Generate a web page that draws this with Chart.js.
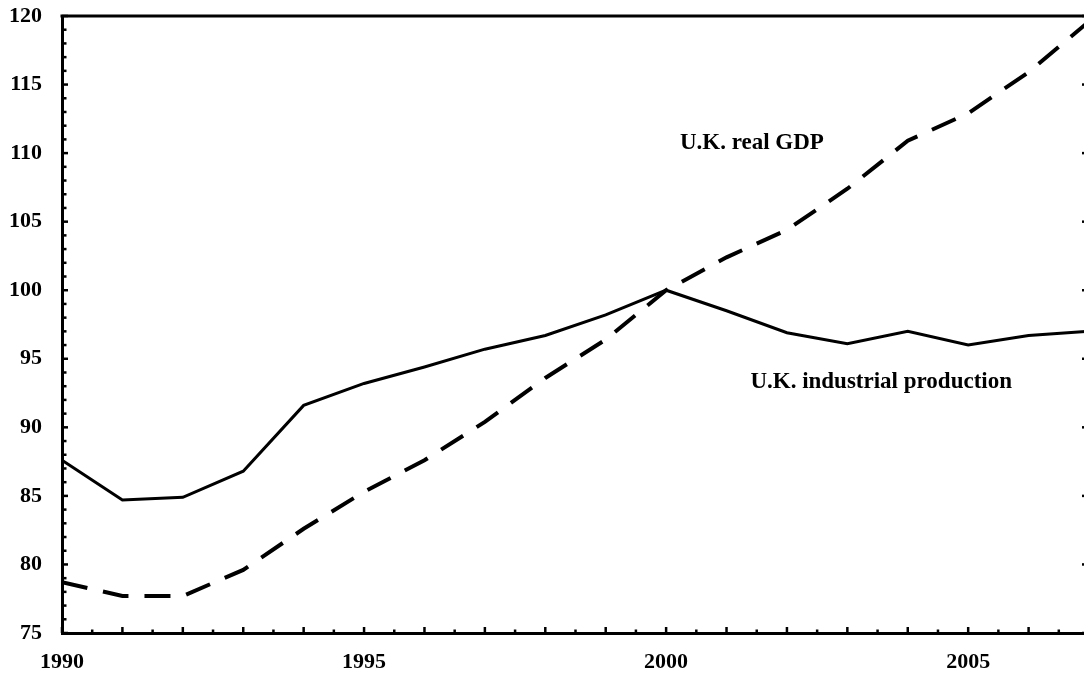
<!DOCTYPE html>
<html>
<head>
<meta charset="utf-8">
<script src="https://cdn.jsdelivr.net/npm/chart.js@4.4.1/dist/chart.umd.min.js"></script>
<style>
  html, body { margin: 0; padding: 0; background: #fff; overflow: hidden; }
  #wrap { position: relative; width: 1092px; height: 675px; }
</style>
</head>
<body>
<div id="wrap"><canvas id="c"></canvas></div>
<script>
// ---- data ----
const years = [1990,1991,1992,1993,1994,1995,1996,1997,1998,1999,2000,2001,2002,2003,2004,2005,2006,2007];
const industrialProduction = [87.6,84.7,84.9,86.8,91.6,93.2,94.4,95.7,96.7,98.2,100.0,98.5,96.9,96.1,97.0,96.0,96.7,97.0];
const realGDP = [78.7,77.7,77.7,79.6,82.6,85.3,87.6,90.4,93.6,96.4,100.0,102.4,104.4,107.4,110.9,112.9,115.9,119.6];
const xTickLabels = [1990,1995,2000,2005];
const yTickLabels = [75,80,85,90,95,100,105,110,115,120];
const seriesNames = ['U.K. industrial production','U.K. real GDP'];
const annotations = [
  {text: 'U.K. real GDP', x: 2001.42, y: 110.7},
  {text: 'U.K. industrial production', x: 2003.56, y: 93.3}
];

const FONT = '"Liberation Serif", "Times New Roman", serif';

const tickPlugin = {
  id: 'inwardTicks',
  afterDraw(chart) {
    const ctx = chart.ctx;
    const a = chart.chartArea;
    const xs = chart.scales.x, ys = chart.scales.y;
    ctx.save();
    ctx.strokeStyle = '#000';
    ctx.lineCap = 'butt';
    // top border
    ctx.lineWidth = 3;
    ctx.beginPath();
    ctx.moveTo(a.left - 1.5, a.top);
    ctx.lineTo(a.right + 1.5, a.top);
    ctx.stroke();
    // x ticks (inward, up)
    ctx.lineWidth = 2.5;
    for (let v = xs.min; v <= xs.max + 1e-6; v += 0.5) {
      const px = xs.getPixelForValue(v);
      const major = Math.abs(v - Math.round(v)) < 1e-6;
      const len = major ? 6 : 3.5;
      ctx.beginPath();
      ctx.moveTo(px, a.bottom);
      ctx.lineTo(px, a.bottom - len);
      ctx.stroke();
    }
    // left y ticks (inward, right)
    for (let v = ys.min; v <= ys.max + 1e-6; v += 1) {
      const py = ys.getPixelForValue(v);
      const len = (v % 5 === 0) ? 6 : 4.5;
      ctx.beginPath();
      ctx.moveTo(a.left, py);
      ctx.lineTo(a.left + len, py);
      ctx.stroke();
    }
    // right y ticks (inward, left)
    for (let v = ys.min; v <= ys.max + 1e-6; v += 5) {
      const py = ys.getPixelForValue(v);
      ctx.beginPath();
      ctx.moveTo(a.right, py);
      ctx.lineTo(a.right - 7, py);
      ctx.stroke();
    }
    // annotations
    ctx.fillStyle = '#000';
    ctx.font = 'bold 23px ' + FONT;
    ctx.textAlign = 'center';
    ctx.textBaseline = 'middle';
    annotations.forEach(an => {
      ctx.fillText(an.text, xs.getPixelForValue(an.x), ys.getPixelForValue(an.y));
    });
    ctx.restore();
  }
};

new Chart(document.getElementById('c'), {
  type: 'line',
  data: {
    datasets: [
      {
        label: seriesNames[0],
        data: years.map((yr, i) => ({x: yr, y: industrialProduction[i]})),
        borderColor: '#000',
        borderWidth: 3,
        pointRadius: 0,
        tension: 0,
        fill: false
      },
      {
        label: seriesNames[1],
        data: years.map((yr, i) => ({x: yr, y: realGDP[i]})),
        borderColor: '#000',
        borderWidth: 4,
        borderDash: [26, 16],
        pointRadius: 0,
        tension: 0,
        fill: false
      }
    ]
  },
  options: {
    responsive: true,
    maintainAspectRatio: false,
    animation: false,
    devicePixelRatio: 1,
    layout: { padding: { top: 0, right: 3, left: 0, bottom: 0 } },
    plugins: { legend: { display: false }, tooltip: { enabled: false } },
    scales: {
      x: {
        type: 'linear',
        min: years[0],
        max: years[years.length - 1],
        afterBuildTicks(scale) { scale.ticks = xTickLabels.map(v => ({value: v})); },
        afterFit(scale) { scale.height = 42; },
        grid: { display: true, drawOnChartArea: false, drawTicks: false },
        border: { display: true, color: '#000', width: 3 },
        ticks: {
          color: '#000',
          padding: 16,
          maxRotation: 0,
          autoSkip: false,
          font: { family: FONT, size: 22, weight: 'bold' },
          callback: v => String(v)
        }
      },
      y: {
        min: 75,
        max: 120,
        afterBuildTicks(scale) { scale.ticks = yTickLabels.map(v => ({value: v})); },
        afterFit(scale) { scale.width = 62; scale.paddingTop = 16; scale.paddingBottom = 0; },
        grid: { display: true, drawOnChartArea: false, drawTicks: false },
        border: { display: true, color: '#000', width: 3 },
        ticks: {
          color: '#000',
          padding: 20,
          font: { family: FONT, size: 22, weight: 'bold' },
          callback: v => String(v)
        }
      }
    }
  },
  plugins: [tickPlugin]
});
</script>
</body>
</html>
